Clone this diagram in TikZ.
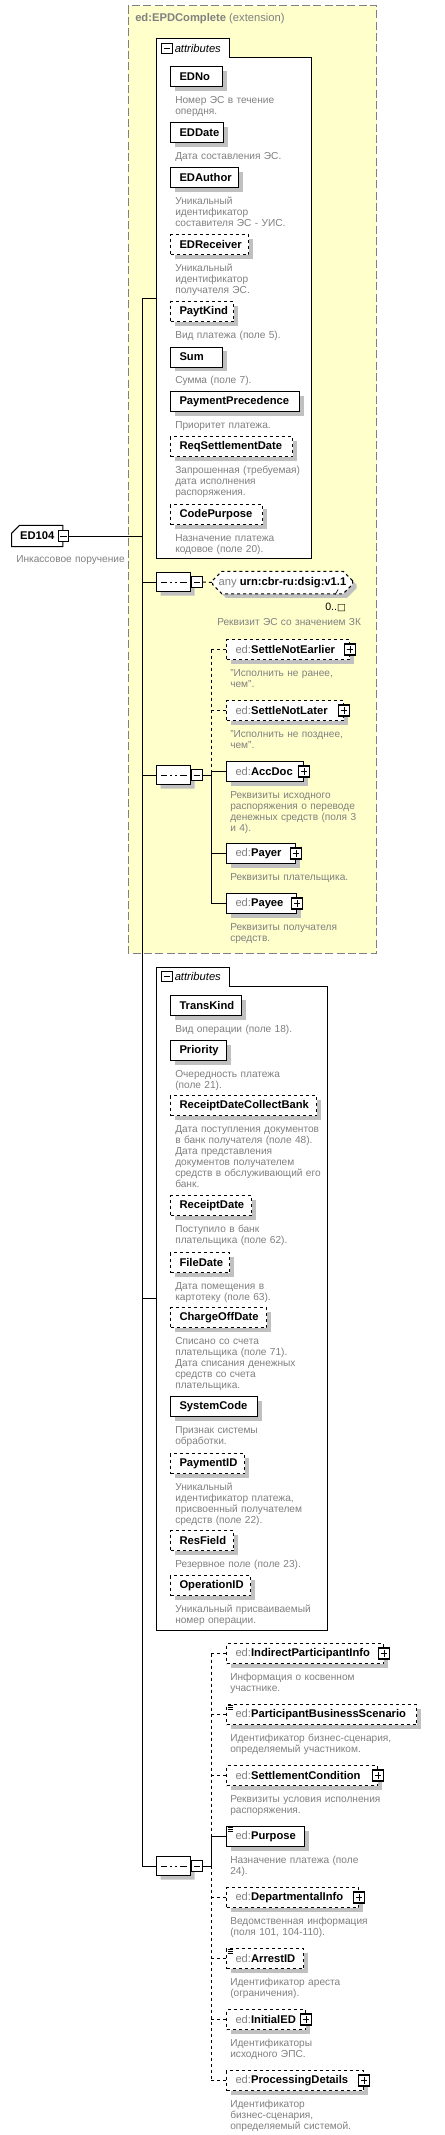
\documentclass[tikz,border=0pt]{standalone}
\usepackage{fontspec}
\setmainfont{Liberation Sans}
\newfontfamily\symfont{DejaVu Sans}
\usetikzlibrary{shapes.misc,shadows,calc}
\definecolor{yel}{RGB}{255,255,204}
\definecolor{boxgray}{RGB}{128,128,128}
\definecolor{shgray}{RGB}{192,192,192}
\definecolor{txtgray}{RGB}{128,128,128}
\newcommand\lblfont{\fontsize{8.4}{10}\selectfont\bfseries}
\newcommand\dscfont{\fontsize{7.6}{8.25}\selectfont}
\newcommand\ed{{\mdseries\color{txtgray}ed:}}
\newcommand\simpleicon[1]{\foreach \k in {1.5,3.5,5.5}{\draw[line width=0.5pt] ($(#1.north west)+(1.5,\k)$) -- ++(5,0);}}
\tikzset{
  shd/.style={drop shadow={shadow xshift=3pt,shadow yshift=-3pt,fill=shgray,opacity=1}},
  elem/.style={draw,fill=white,line width=0.75pt,anchor=north west,minimum height=15pt,
    inner xsep=6.75pt,inner ysep=0pt,align=left,font=\lblfont,shd},
  optl/.style={dash pattern=on 2.25pt off 2.25pt},
  dsc/.style={anchor=base west,inner sep=0pt,align=left,text width=160pt,font=\dscfont,text=txtgray},
  pbox/.style={draw,fill=white,line width=0.9pt,minimum size=8.25pt,inner sep=0pt,
    path picture={\draw[line width=0.6pt] ([yshift=-1.6pt]path picture bounding box.north)--([yshift=1.6pt]path picture bounding box.south)
      ([xshift=1.6pt]path picture bounding box.west)--([xshift=-1.6pt]path picture bounding box.east);}},
  mbox/.style={draw,fill=white,line width=0.9pt,minimum size=8pt,inner sep=0pt,
    path picture={\draw[line width=0.6pt] ([xshift=1.6pt]path picture bounding box.west)--([xshift=-1.6pt]path picture bounding box.east);}},
  seqnode/.style={chamfered rectangle,chamfered rectangle xsep=3.5pt,chamfered rectangle ysep=3.5pt,
    draw,fill=white,line width=0.75pt,minimum width=25.5pt,minimum height=14.25pt,inner sep=0pt,anchor=west,shd,
    path picture={\draw[line width=0.75pt] ([xshift=3pt]path picture bounding box.west)--([xshift=-3pt]path picture bounding box.east);
      \foreach \d in {-3.75,0,3.75}{\fill ([xshift=\d pt]path picture bounding box.center) ++(-1.1pt,-0.9pt) rectangle ++(2.2pt,1.8pt);}}},
  conn/.style={line width=0.75pt},
}
\begin{document}
\lefthyphenmin=62 \righthyphenmin=62
\begin{tikzpicture}[x=0.75pt,y=-0.75pt]
\useasboundingbox (0,0) rectangle (444,2135);
\fill[white] (0,0) rectangle (444,2135);
% extension container
\draw[fill=yel,draw=boxgray,line width=0.75pt,dash pattern=on 6pt off 2.5pt] (128,5.5) rectangle (376.5,953);
\node[anchor=west,inner sep=0pt,font=\lblfont,text=txtgray] (ttl) at (135,19) {ed:EPDComplete {\mdseries (extension)}};
% attribute groups
\draw[line width=0.75pt,fill=white] (156,38) -- (229,38) -- (229,57) -- (311.5,57) -- (311.5,558) -- (156,558) -- cycle;
\node[mbox] (att1m) at (167,48.5) {};
\node[anchor=west,inner sep=0pt,font=\fontsize{8.4}{10}\selectfont\itshape] (att1l) at (174.5,48) {attributes};
\draw[line width=0.75pt,fill=white] (156,967) -- (229,967) -- (229,986) -- (327,986) -- (327,1630) -- (156,1630) -- cycle;
\node[mbox] (att2m) at (167,976.5) {};
\node[anchor=west,inner sep=0pt,font=\fontsize{8.4}{10}\selectfont\itshape] (att2l) at (174.5,976) {attributes};
% root
\node[chamfered rectangle,chamfered rectangle corners=north west,chamfered rectangle xsep=3pt,chamfered rectangle ysep=3pt,
  draw,fill=white,line width=0.75pt,minimum width=38.6pt,minimum height=15pt,inner sep=2pt,anchor=west,font=\lblfont] (ED104) at (11,536) {ED104};
\node[mbox] (ED104m) at (ED104.east) {};
\node[dsc] (ED104-d) at (16,562) {Инкассовое поручение};
% attributes 1
\node[elem,text width=25.5pt] (EDNo) at (170,66) {EDNo};
\node[dsc] (EDNo-d) at ($(EDNo.south west)+(5,16)$) {Номер ЭС в течение\\опердня.};
\node[elem,text width=26.25pt] (EDDate) at (170,122) {EDDate};
\node[dsc] (EDDate-d) at ($(EDDate.south west)+(5,16)$) {Дата составления ЭС.};
\node[elem,text width=37.5pt] (EDAuthor) at (170,167) {EDAuthor};
\node[dsc] (EDAuthor-d) at ($(EDAuthor.south west)+(5,16)$) {Уникальный\\идентификатор\\составителя ЭС - УИС.};
\node[elem,optl,text width=45pt] (EDReceiver) at (170,234) {EDReceiver};
\node[dsc] (EDReceiver-d) at ($(EDReceiver.south west)+(5,16)$) {Уникальный\\идентификатор\\получателя ЭС.};
\node[elem,optl,text width=33.75pt] (PaytKind) at (170,301) {PaytKind};
\node[dsc] (PaytKind-d) at ($(PaytKind.south west)+(5,16)$) {Вид платежа (поле 5).};
\node[elem,text width=25.5pt] (Sum) at (170,346.5) {Sum};
\node[dsc] (Sum-d) at ($(Sum.south west)+(5,16)$) {Сумма (поле 7).};
\node[elem,text width=83.25pt] (PaymentPrecedence) at (170,391) {PaymentPrecedence};
\node[dsc] (PaymentPrecedence-d) at ($(PaymentPrecedence.south west)+(5,16)$) {Приоритет платежа.};
\node[elem,optl,text width=78pt] (ReqSettlementDate) at (170,436) {ReqSettlementDate};
\node[dsc] (ReqSettlementDate-d) at ($(ReqSettlementDate.south west)+(5,16)$) {Запрошенная (требуемая)\\дата исполнения\\распоряжения.};
\node[elem,optl,text width=55.5pt] (CodePurpose) at (170,504) {CodePurpose};
\node[dsc] (CodePurpose-d) at ($(CodePurpose.south west)+(5,16)$) {Назначение платежа\\кодовое (поле 20).};
% sequence 1 : any
\node[seqnode] (seq1) at (156,582) {};
\node[mbox,anchor=west] (s1m) at (seq1.east) {};
\node[chamfered rectangle,chamfered rectangle xsep=3.5pt,chamfered rectangle ysep=3.5pt,draw,optl,fill=white,line width=0.75pt,
  minimum width=105pt,minimum height=15.75pt,inner sep=1pt,anchor=west,font=\lblfont,shd] (anyel) at (212,582.5)
  {{\mdseries\color{txtgray}any}\ urn:cbr-ru:dsig:v1.1};
\node[anchor=base west,inner sep=0pt,font=\fontsize{8}{9}\selectfont] (card) at (325,610) {0..{\symfont\fontsize{7}{8}\selectfont □}};
\draw[line width=0.5pt] ([xshift=-7.5pt]anyel.south east) -- ++(-3,5);
\node[dsc] (anyel-d) at (217,625) {Реквизит ЭС со значением ЗК};
% sequence 2
\node[seqnode] (seq2) at (156,775) {};
\node[mbox,anchor=west] (s2m) at (seq2.east) {};
\node[elem,optl,text width=78.75pt] (SNE) at (226,639) {\ed SettleNotEarlier};
\node[pbox] (SNEp) at (SNE.east) {};
\node[dsc] (SNE-d) at ($(SNE.south west)+(4,16.5)$) {"Исполнить не ранее,\\чем".};
\node[elem,optl,text width=74.25pt] (SNL) at (226,700) {\ed SettleNotLater};
\node[pbox] (SNLp) at (SNL.east) {};
\node[dsc] (SNL-d) at ($(SNL.south west)+(4,16.5)$) {"Исполнить не позднее,\\чем".};
\node[elem,text width=44.25pt] (AccDoc) at (226,761) {\ed AccDoc};
\node[pbox] (AccDocp) at (AccDoc.east) {};
\node[dsc] (AccDoc-d) at ($(AccDoc.south west)+(4,16.5)$) {Реквизиты исходного\\распоряжения о переводе\\денежных средств (поля 3\\и 4).};
\node[elem,text width=38.25pt] (Payer) at (226,843) {\ed Payer};
\node[pbox] (Payerp) at (Payer.east) {};
\node[dsc] (Payer-d) at ($(Payer.south west)+(4,16.5)$) {Реквизиты плательщика.};
\node[elem,text width=39pt] (Payee) at (226,893) {\ed Payee};
\node[pbox] (Payeep) at (Payee.east) {};
\node[dsc] (Payee-d) at ($(Payee.south west)+(4,16.5)$) {Реквизиты получателя\\средств.};
% attributes 2
\node[elem,text width=39.75pt] (TransKind) at (170,995) {TransKind};
\node[dsc] (TransKind-d) at ($(TransKind.south west)+(5,16)$) {Вид операции (поле 18).};
\node[elem,text width=28.5pt] (Priority) at (170,1040) {Priority};
\node[dsc] (Priority-d) at ($(Priority.south west)+(5,16)$) {Очередность платежа\\(поле 21).};
\node[elem,optl,text width=96pt] (RDCB) at (170,1095) {ReceiptDateCollectBank};
\node[dsc] (RDCB-d) at ($(RDCB.south west)+(5,16)$) {Дата поступления документов\\в банк получателя (поле 48).\\Дата представления\\документов получателем\\средств в обслуживающий его\\банк.};
\node[elem,optl,text width=47.25pt] (ReceiptDate) at (170,1195) {ReceiptDate};
\node[dsc] (ReceiptDate-d) at ($(ReceiptDate.south west)+(5,16)$) {Поступило в банк\\плательщика (поле 62).};
\node[elem,optl,text width=30.75pt] (FileDate) at (170,1252) {FileDate};
\node[dsc] (FileDate-d) at ($(FileDate.south west)+(5,16)$) {Дата помещения в\\картотеку (поле 63).};
\node[elem,optl,text width=58.5pt] (ChargeOffDate) at (170,1307) {ChargeOffDate};
\node[dsc] (ChargeOffDate-d) at ($(ChargeOffDate.south west)+(5,16)$) {Списано со счета\\плательщика (поле 71).\\Дата списания денежных\\средств со счета\\плательщика.};
\node[elem,text width=51.75pt] (SystemCode) at (170,1396) {SystemCode};
\node[dsc] (SystemCode-d) at ($(SystemCode.south west)+(5,16)$) {Признак системы\\обработки.};
\node[elem,optl,text width=42pt] (PaymentID) at (170,1453) {PaymentID};
\node[dsc] (PaymentID-d) at ($(PaymentID.south west)+(5,16)$) {Уникальный\\идентификатор платежа,\\присвоенный получателем\\средств (поле 22).};
\node[elem,optl,text width=33.75pt] (ResField) at (170,1530) {ResField};
\node[dsc] (ResField-d) at ($(ResField.south west)+(5,16)$) {Резервное поле (поле 23).};
\node[elem,optl,text width=46.5pt] (OperationID) at (170,1575) {OperationID};
\node[dsc] (OperationID-d) at ($(OperationID.south west)+(5,16)$) {Уникальный присваиваемый\\номер операции.};
% sequence 3
\node[seqnode] (seq3) at (156,1866) {};
\node[mbox,anchor=west] (s3m) at (seq3.east) {};
\node[elem,optl,text width=104.25pt] (IPI) at (226,1643) {\ed IndirectParticipantInfo};
\node[pbox] (IPIp) at (IPI.east) {};
\node[dsc] (IPI-d) at ($(IPI.south west)+(4,16.5)$) {Информация о косвенном\\участнике.};
\node[elem,optl,text width=129pt] (PBS) at (226,1704) {\ed ParticipantBusinessScenario};
\simpleicon{PBS}
\node[dsc] (PBS-d) at ($(PBS.south west)+(4,16.5)$) {Идентификатор бизнес-сценария,\\определяемый участником.};
\node[elem,optl,text width=99.75pt] (SC) at (226,1765) {\ed SettlementCondition};
\node[pbox] (SCp) at (SC.east) {};
\node[dsc] (SC-d) at ($(SC.south west)+(4,16.5)$) {Реквизиты условия исполнения\\распоряжения.};
\node[elem,text width=45pt] (Purpose) at (226,1826) {\ed Purpose};
\simpleicon{Purpose}
\node[dsc] (Purpose-d) at ($(Purpose.south west)+(4,16.5)$) {Назначение платежа (поле\\24).};
\node[elem,optl,text width=85.5pt] (DI) at (226,1887) {\ed DepartmentalInfo};
\node[pbox] (DIp) at (DI.east) {};
\node[dsc] (DI-d) at ($(DI.south west)+(4,16.5)$) {Ведомственная информация\\(поля 101, 104-110).};
\node[elem,optl,text width=44.25pt] (ArrestID) at (226,1948) {\ed ArrestID};
\simpleicon{ArrestID}
\node[dsc] (ArrestID-d) at ($(ArrestID.south west)+(4,16.5)$) {Идентификатор ареста\\(ограничения).};
\node[elem,optl,text width=45.75pt] (InitialED) at (226,2009) {\ed InitialED};
\node[pbox] (InitialEDp) at (InitialED.east) {};
\node[dsc] (InitialED-d) at ($(InitialED.south west)+(4,16.5)$) {Идентификаторы\\исходного ЭПС.};
\node[elem,optl,text width=89.25pt] (PD) at (226,2070) {\ed ProcessingDetails};
\node[pbox] (PDp) at (PD.east) {};
\node[dsc] (PD-d) at ($(PD.south west)+(4,16.5)$) {Идентификатор\\бизнес-сценария,\\определяемый системой.};
% connectors
\coordinate (tr) at (142,298);
\coordinate (a1) at (156,298);
\coordinate (a2) at (156,1298);
\coordinate (b2) at (211,0);
\coordinate (b3) at (211,0);
\draw[conn] (ED104m.east) -- (ED104m.east -| tr);
\draw[conn] (tr) -- (tr |- seq3.west);
\draw[conn] (tr) -- (a1);
\draw[conn] (tr |- a2) -- (a2);
\draw[conn] (tr |- seq1.west) -- (seq1.west);
\draw[conn] (tr |- seq2.west) -- (seq2.west);
\draw[conn] (tr |- seq3.west) -- (seq3.west);
\draw[conn,optl] (s1m.east) -- (anyel.west);
% bus 2
\draw[conn] (s2m.east) -- (s2m.east -| b2);
\draw[conn,optl] (SNE.west -| b2) -- (AccDoc.west -| b2);
\draw[conn] (AccDoc.west -| b2) -- (Payee.west -| b2);
\draw[conn,optl] (SNE.west -| b2) -- (SNE.west);
\draw[conn,optl] (SNL.west -| b2) -- (SNL.west);
\draw[conn] (AccDoc.west -| b2) -- (AccDoc.west);
\draw[conn] (Payer.west -| b2) -- (Payer.west);
\draw[conn] (Payee.west -| b2) -- (Payee.west);
% bus 3
\draw[conn] (s3m.east) -- (s3m.east -| b3);
\draw[conn,optl] (IPI.west -| b3) -- (Purpose.west -| b3);
\draw[conn] (Purpose.west -| b3) -- (s3m.east -| b3);
\draw[conn,optl] (s3m.east -| b3) -- (PD.west -| b3);
\draw[conn,optl] (IPI.west -| b3) -- (IPI.west);
\draw[conn,optl] (PBS.west -| b3) -- (PBS.west);
\draw[conn,optl] (SC.west -| b3) -- (SC.west);
\draw[conn] (Purpose.west -| b3) -- (Purpose.west);
\draw[conn,optl] (DI.west -| b3) -- (DI.west);
\draw[conn,optl] (ArrestID.west -| b3) -- (ArrestID.west);
\draw[conn,optl] (InitialED.west -| b3) -- (InitialED.west);
\draw[conn,optl] (PD.west -| b3) -- (PD.west);
\end{tikzpicture}
\end{document}
